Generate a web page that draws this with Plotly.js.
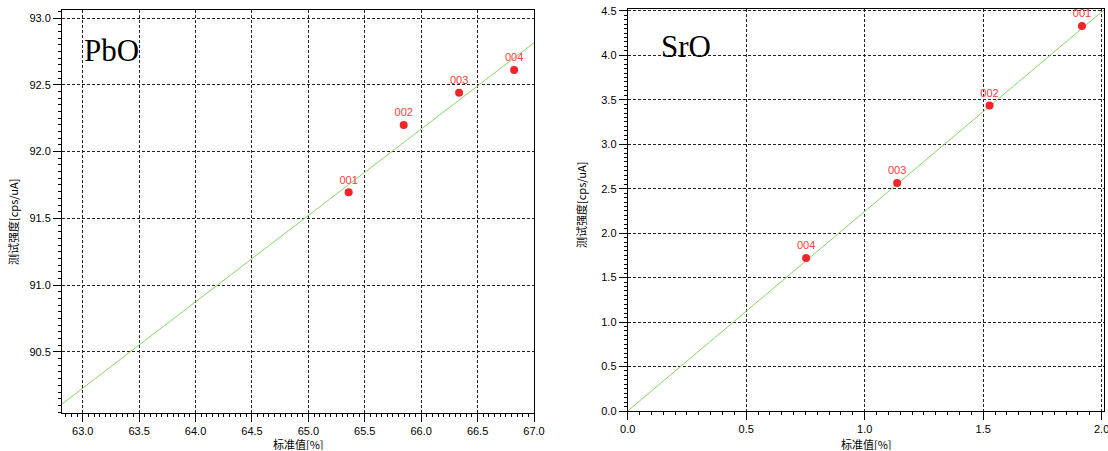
<!DOCTYPE html>
<html>
<head>
<meta charset="utf-8">
<script src="https://cdn.plot.ly/plotly-3.0.1.min.js"></script>
<style>
  html, body { margin: 0; padding: 0; background: #ffffff; }
  #chart { width: 1108px; height: 451px; }
</style>
</head>
<body>
<div id="chart"></div>
<script>
// ---- PbO data ----
const pboLabels = ["001", "002", "003", "004"];
const pboStd    = [65.357, 65.845, 66.336, 66.824];
const pboInt    = [91.695, 92.199, 92.441, 92.611];
const pboFitX   = [62.816, 67.0];
const pboFitY   = [90.110, 92.815];

// ---- SrO data ----
const sroLabels = ["001", "002", "003", "004"];
const sroStd    = [1.917, 1.527, 1.137, 0.753];
const sroInt    = [4.328, 3.435, 2.564, 1.720];
const sroFitX   = [0.0, 2.01];
const sroFitY   = [0.0, 4.51];

// ---- text ----
const xTitle = "标准值[%]";
const yTitle = "测试强度[cps/uA]";
const panelNames = ["PbO", "SrO"];

const W = 1108, H = 451;
const px = v => v / W;
const py = v => (H - v) / H;

const tickFont = { family: "Liberation Sans, Arial, sans-serif", size: 11, color: "#000" };
const gridStyle = { showgrid: true, gridcolor: "#222222", gridwidth: 1, griddash: "3px,2px" };

function mainAxis(range, domain, dtick, tick0, anchor) {
  return Object.assign({
    range: range, domain: domain, anchor: anchor,
    dtick: dtick, tick0: tick0, tickformat: ".1f",
    ticks: "outside", ticklen: 8, tickwidth: 1, tickcolor: "#000",
    ticklabeloverflow: "allow",
    showline: true, linecolor: "#000", linewidth: 1, mirror: true,
    zeroline: false, tickfont: tickFont,
    minor: { dtick: 0.05, ticks: "outside", ticklen: 3, tickcolor: "#000", showgrid: false }
  }, gridStyle);
}
function midAxis(range, overlay, anchor, side, tick0) {
  return {
    range: range, overlaying: overlay, anchor: anchor, side: side,
    dtick: 0.25, tick0: tick0, ticks: "outside", ticklen: 5, tickcolor: "#000",
    showticklabels: false, showgrid: false, zeroline: false, showline: false
  };
}

const pboXr = [62.816, 67.0], pboYr = [90.043, 93.06];
const sroXr = [0, 2.01],     sroYr = [0, 4.52];

const lineColor = "#8ad46a";
const markColor = "#f5232a";
const labColor  = "#ff3b3b";
const labFont = { family: "Liberation Sans, Arial, sans-serif", size: 11, color: labColor };

const traces = [
  { x: pboFitX, y: pboFitY, xaxis: "x", yaxis: "y", mode: "lines",
    line: { color: lineColor, width: 1 }, hoverinfo: "skip", showlegend: false },
  { x: pboStd, y: pboInt, text: pboLabels, xaxis: "x", yaxis: "y", mode: "markers+text",
    textposition: "top center", textfont: labFont,
    marker: { color: markColor, size: 8 }, showlegend: false },
  { x: sroFitX, y: sroFitY, xaxis: "x2", yaxis: "y2", mode: "lines",
    line: { color: lineColor, width: 1 }, hoverinfo: "skip", showlegend: false },
  { x: sroStd, y: sroInt, text: sroLabels, xaxis: "x2", yaxis: "y2", mode: "markers+text",
    textposition: "top center", textfont: labFont,
    marker: { color: markColor, size: 8 }, showlegend: false }
];

const cjk = { family: "Noto Sans CJK SC, sans-serif", size: 11, color: "#000" };
const serif = { family: "Liberation Serif, Times New Roman, serif", size: 31, color: "#000" };

const layout = {
  width: W, height: H,
  margin: { l: 0, r: 0, t: 0, b: 0 },
  paper_bgcolor: "#ffffff", plot_bgcolor: "#ffffff",
  showlegend: false,
  xaxis:  mainAxis(pboXr, [px(62), px(534)], 0.5, 63, "y"),
  yaxis:  mainAxis(pboYr, [py(413), py(10)], 0.5, 90, "x"),
  xaxis2: mainAxis(sroXr, [px(627.7), px(1104)], 0.5, 0, "y2"),
  yaxis2: mainAxis(sroYr, [py(411), py(9)], 0.5, 0, "x2"),
  xaxis3: midAxis(pboXr, "x", "y", "bottom", 63),
  yaxis3: midAxis(pboYr, "y", "x", "left", 90),
  xaxis4: midAxis(sroXr, "x2", "y2", "bottom", 0),
  yaxis4: midAxis(sroYr, "y2", "x2", "left", 0),
  annotations: [
    { text: panelNames[0], xref: "paper", yref: "paper", x: px(82), y: py(51), xanchor: "left", yanchor: "middle", showarrow: false, font: serif },
    { text: panelNames[1], xref: "paper", yref: "paper", x: px(659), y: py(46), xanchor: "left", yanchor: "middle", showarrow: false, font: serif },
    { text: xTitle, xref: "paper", yref: "paper", x: px(298), y: 0, xanchor: "center", yanchor: "bottom", height: 12, valign: "middle", borderpad: 0, showarrow: false, font: cjk },
    { text: xTitle, xref: "paper", yref: "paper", x: px(866), y: 0, xanchor: "center", yanchor: "bottom", height: 12, valign: "middle", borderpad: 0, showarrow: false, font: cjk },
    { text: yTitle, xref: "paper", yref: "paper", x: px(13), y: py(222), xanchor: "center", yanchor: "middle", textangle: -90, showarrow: false, font: cjk },
    { text: yTitle, xref: "paper", yref: "paper", x: px(581), y: py(205), xanchor: "center", yanchor: "middle", textangle: -90, showarrow: false, font: cjk }
  ]
};

Plotly.newPlot("chart", traces, layout, { displayModeBar: false, staticPlot: true });
</script>
</body>
</html>
